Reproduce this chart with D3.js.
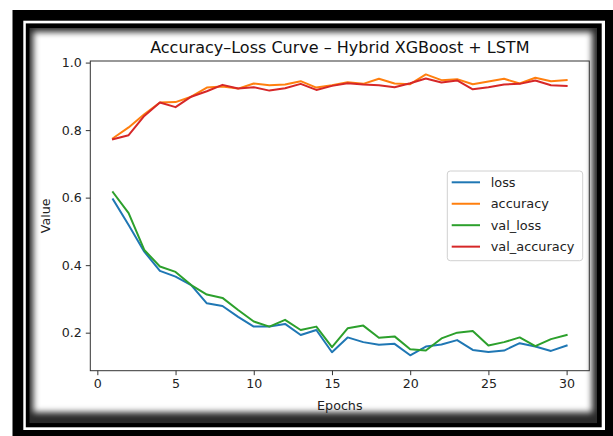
<!DOCTYPE html>
<html><head><meta charset="utf-8">
<script src="https://cdn.jsdelivr.net/npm/d3@7/dist/d3.min.js"></script>
<style>html,body{margin:0;padding:0;background:#fff;}svg{display:block;}</style>
</head><body>
<script>
const epochs = d3.range(1, 31);
const loss = [0.595,0.519,0.440,0.383,0.366,0.341,0.287,0.279,0.247,0.218,0.218,0.226,0.193,0.208,0.142,0.186,0.172,0.164,0.167,0.133,0.159,0.165,0.178,0.149,0.143,0.147,0.169,0.159,0.146,0.162];
const accuracy = [0.776,0.808,0.847,0.882,0.883,0.899,0.926,0.929,0.923,0.938,0.933,0.935,0.945,0.926,0.933,0.942,0.937,0.952,0.938,0.936,0.965,0.948,0.951,0.936,0.944,0.952,0.938,0.955,0.945,0.948];
const valLoss = [0.616,0.554,0.445,0.396,0.380,0.341,0.313,0.303,0.267,0.233,0.218,0.238,0.208,0.218,0.157,0.213,0.221,0.185,0.189,0.151,0.147,0.183,0.200,0.205,0.162,0.172,0.186,0.160,0.181,0.193];
const valAccuracy = [0.773,0.785,0.842,0.882,0.868,0.899,0.915,0.934,0.923,0.927,0.917,0.924,0.937,0.919,0.931,0.939,0.935,0.933,0.927,0.939,0.953,0.941,0.947,0.921,0.927,0.935,0.937,0.947,0.933,0.931];
const seriesNames = ["loss","accuracy","val_loss","val_accuracy"];
const seriesColors = ["#1f77b4","#ff7f0e","#2ca02c","#d62728"];
const xTicks = [0,5,10,15,20,25,30];
const yTicks = [0.2,0.4,0.6,0.8,1.0];
const titleText = "Accuracy\u2013Loss Curve \u2013 Hybrid XGBoost + LSTM";

const W = 613, H = 436;
const FONT = "DejaVu Sans, sans-serif";
const svg = d3.select("body").append("svg").attr("width", W).attr("height", H);
const defs = svg.append("defs");
defs.append("filter").attr("id","blur").attr("x","-10%").attr("y","-10%").attr("width","120%").attr("height","120%")
  .append("feGaussianBlur").attr("stdDeviation", 3.2);
defs.append("clipPath").attr("id","inner").append("rect").attr("x",29.3).attr("y",28).attr("width",597-29.3).attr("height",423.3-28);

// frame
svg.append("rect").attr("x",0).attr("y",0).attr("width",W).attr("height",H).attr("fill","#fff");
svg.append("rect").attr("x",12.5).attr("y",10).attr("width",W).attr("height",H).attr("fill","#000");
svg.append("rect").attr("x",23.3).attr("y",20.7).attr("width",605-23.3).attr("height",430-20.7).attr("fill","#fff");
svg.append("rect").attr("x",25.8).attr("y",23.4).attr("width",601.7-25.8).attr("height",427.3-23.4).attr("fill","#000");
const inner = svg.append("g").attr("clip-path","url(#inner)");
inner.append("rect").attr("x",29.3).attr("y",28).attr("width",597-29.3).attr("height",423.3-28).attr("fill","#2a2a2a");
inner.append("rect").attr("x",29.3+4).attr("y",28+4).attr("width",597-29.3-9).attr("height",423.3-28-15).attr("fill","#fff").attr("filter","url(#blur)");

// scales
const x = d3.scaleLinear().domain([-0.45, 31.45]).range([90.3, 589.3]);
const y = d3.scaleLinear().domain([0.0874, 1.0047]).range([370.7, 61]);

const g = svg.append("g");
const lineGen = d3.line().x((d,i)=>x(epochs[i])).y(d=>y(d));
const allSeries = [loss, accuracy, valLoss, valAccuracy];
allSeries.forEach((s,i)=>{
  g.append("path").datum(s).attr("d", lineGen).attr("fill","none")
   .attr("stroke", seriesColors[i]).attr("stroke-width", 2).attr("stroke-linejoin","round").attr("stroke-linecap","square");
});

// axes
const xAxis = d3.axisBottom(x).tickValues(xTicks).tickFormat(d3.format("d")).tickSizeOuter(0).tickSize(4.5).tickPadding(4);
const yAxis = d3.axisLeft(y).tickValues(yTicks).tickFormat(d3.format(".1f")).tickSizeOuter(0).tickSize(4.5).tickPadding(4);
const gx = svg.append("g").attr("transform",`translate(0,${y.range()[0]})`).call(xAxis);
const gy = svg.append("g").attr("transform",`translate(${x.range()[0]},0)`).call(yAxis);
[gx,gy].forEach(a=>{
  a.select(".domain").remove();
  a.selectAll("line").attr("stroke","#333").attr("stroke-width",1);
  a.selectAll("text").attr("fill","#222").style("font-family",FONT).style("font-size","12.6px");
});
// spines
svg.append("rect").attr("x",x.range()[0]).attr("y",y.range()[1]).attr("width",x.range()[1]-x.range()[0]).attr("height",y.range()[0]-y.range()[1])
  .attr("fill","none").attr("stroke","#333").attr("stroke-width",1);

// titles
svg.append("text").attr("x",(x.range()[0]+x.range()[1])/2).attr("y",52.5).attr("text-anchor","middle")
  .style("font-family",FONT).style("font-size","16px").attr("fill","#111").text(titleText);
svg.append("text").attr("x",(x.range()[0]+x.range()[1])/2).attr("y",410).attr("text-anchor","middle")
  .style("font-family",FONT).style("font-size","12.7px").attr("fill","#222").text("Epochs");
svg.append("text").attr("transform",`translate(49.5,${(y.range()[0]+y.range()[1])/2}) rotate(-90)`).attr("text-anchor","middle")
  .style("font-family",FONT).style("font-size","12.7px").attr("fill","#222").text("Value");

// legend
const lg = svg.append("g");
lg.append("rect").attr("x",447.3).attr("y",171).attr("width",582.7-447.3).attr("height",260.7-171).attr("rx",3)
  .attr("fill","#fff").attr("fill-opacity",0.8).attr("stroke","#d0d0d0").attr("stroke-width",1);
seriesNames.forEach((n,i)=>{
  const yy = 182.3 + i*21.45;
  lg.append("line").attr("x1",451.7).attr("x2",480).attr("y1",yy).attr("y2",yy).attr("stroke",seriesColors[i]).attr("stroke-width",2);
  lg.append("text").attr("x",490.7).attr("y",yy).attr("dy","0.35em").style("font-family",FONT).style("font-size","12.9px").attr("fill","#222").text(n);
});
</script>
</body></html>
